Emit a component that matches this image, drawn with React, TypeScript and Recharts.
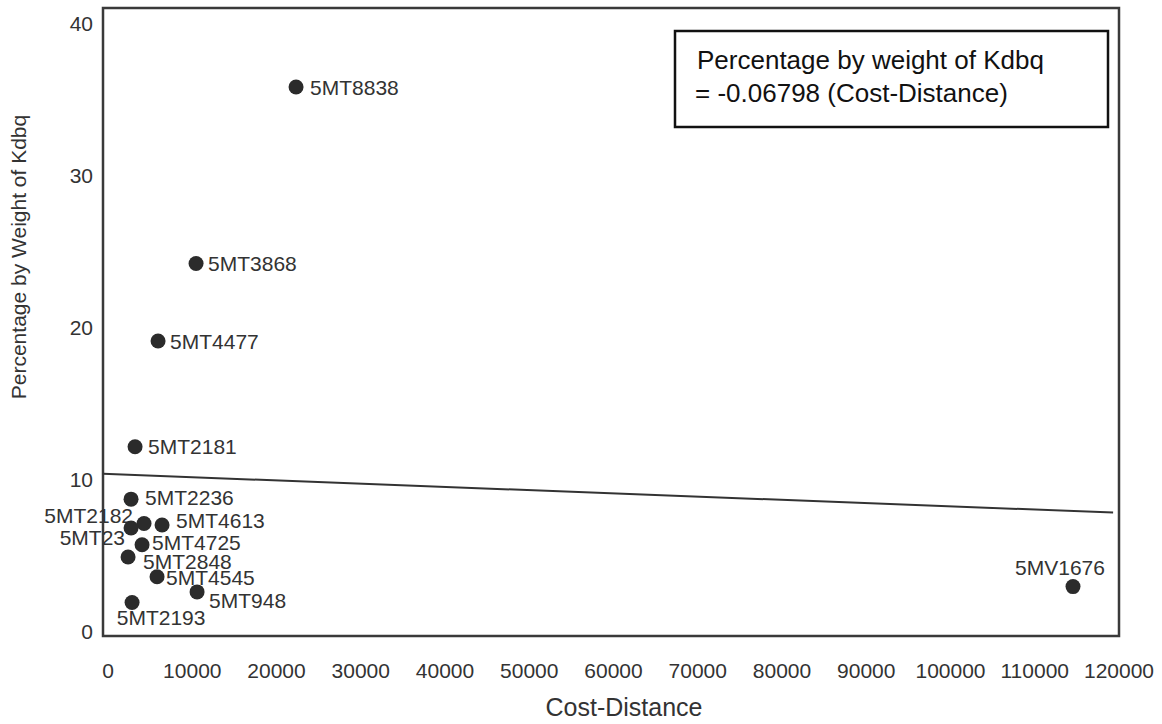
import React from "react";
import {
  ScatterChart,
  Scatter,
  XAxis,
  YAxis,
  ReferenceArea,
  ReferenceLine,
  Customized,
} from "recharts";

// Sites and their measured values
const siteNames = [
  "5MT8838",
  "5MT3868",
  "5MT4477",
  "5MT2181",
  "5MT2236",
  "5MT2182",
  "5MT4613",
  "5MT23",
  "5MT4725",
  "5MT2848",
  "5MT4545",
  "5MT948",
  "5MT2193",
  "5MV1676",
];
const costDistance = [
  22315, 10445, 5935, 3205, 2730, 4270, 6410, 2730, 4035, 2375, 5815, 10565,
  2850, 114540,
];
const kdbqPercent = [
  35.8, 24.2, 19.1, 12.15, 8.7, 7.1, 7.0, 6.8, 5.7, 4.9, 3.6, 2.6, 1.9, 2.95,
];

// Regression line end points
const trendX = [-600, 119300];
const trendY = [10.37, 7.82];

// Axis ticks and domains
const xTicks = [
  0, 10000, 20000, 30000, 40000, 50000, 60000, 70000, 80000, 90000, 100000,
  110000, 120000,
];
const yTicks = [0, 10, 20, 30, 40];
const xDomain: [number, number] = [-600, 120000];
const yDomain: [number, number] = [-0.3, 41];

const equationLines = [
  "Percentage by weight of Kdbq",
  "= -0.06798 (Cost-Distance)",
];

// Per-site label placement around the dot (anchor, offset in px)
const labelPlacement: Record<
  string,
  { anchor: "start" | "middle" | "end"; dx: number; dy: number }
> = {
  "5MT8838": { anchor: "start", dx: 14, dy: 0 },
  "5MT3868": { anchor: "start", dx: 12, dy: 0 },
  "5MT4477": { anchor: "start", dx: 12, dy: 0 },
  "5MT2181": { anchor: "start", dx: 13, dy: 0 },
  "5MT2236": { anchor: "start", dx: 14, dy: -2 },
  "5MT2182": { anchor: "end", dx: -11, dy: -8 },
  "5MT4613": { anchor: "start", dx: 14, dy: -4 },
  "5MT23": { anchor: "end", dx: -6, dy: 9 },
  "5MT4725": { anchor: "start", dx: 10, dy: -2 },
  "5MT2848": { anchor: "start", dx: 15, dy: 5 },
  "5MT4545": { anchor: "start", dx: 9, dy: 1 },
  "5MT948": { anchor: "start", dx: 12, dy: 9 },
  "5MT2193": { anchor: "middle", dx: 29, dy: 15 },
  "5MV1676": { anchor: "middle", dx: -13, dy: -19 },
};

const FONT = "'Liberation Sans', Arial, Helvetica, sans-serif";
const INK = "#333333";

const points = siteNames.map((name, i) => ({
  name,
  x: costDistance[i],
  y: kdbqPercent[i],
}));

const SiteDot = (props: any) => {
  const { cx, cy, payload } = props;
  const p = labelPlacement[payload.name] || { anchor: "start", dx: 12, dy: 0 };
  return (
    <g>
      <circle cx={cx} cy={cy} r={7.5} fill="#2b2b2b" />
      <text
        x={cx + p.dx}
        y={cy + p.dy}
        textAnchor={p.anchor}
        dominantBaseline="central"
        fontFamily={FONT}
        fontSize={21}
        fill={INK}
      >
        {payload.name}
      </text>
    </g>
  );
};

const XTick = (props: any) => {
  const { x, y, payload } = props;
  return (
    <text
      x={x}
      y={y + 34}
      textAnchor="middle"
      dominantBaseline="central"
      fontFamily={FONT}
      fontSize={21}
      fill={INK}
    >
      {payload.value}
    </text>
  );
};

const YTick = (props: any) => {
  const { x, y, payload } = props;
  return (
    <text
      x={x - 10}
      y={y}
      textAnchor="end"
      dominantBaseline="central"
      fontFamily={FONT}
      fontSize={21}
      fill={INK}
    >
      {payload.value}
    </text>
  );
};

const Decorations = () => (
  <g>
    {/* axis titles */}
    <text
      x={624}
      y={707}
      textAnchor="middle"
      dominantBaseline="central"
      fontFamily={FONT}
      fontSize={25}
      fill={INK}
    >
      Cost-Distance
    </text>
    <text
      x={18}
      y={257}
      transform="rotate(-90 18 257)"
      textAnchor="middle"
      dominantBaseline="central"
      fontFamily={FONT}
      fontSize={21}
      fill={INK}
    >
      Percentage by Weight of Kdbq
    </text>
    {/* equation box */}
    <rect
      x={675}
      y={31}
      width={433}
      height={96}
      fill="#ffffff"
      stroke="#111111"
      strokeWidth={2.5}
    />
    <text x={697} y={69} fontFamily={FONT} fontSize={26} fill="#111111">
      {equationLines[0]}
    </text>
    <text x={695} y={102} fontFamily={FONT} fontSize={26} fill="#111111">
      {equationLines[1]}
    </text>
  </g>
);

export default function App() {
  return (
    <div style={{ position: "absolute", left: 0, top: 0, background: "#fff" }}>
      <ScatterChart
        width={1162}
        height={724}
        margin={{ top: 8, right: 43, bottom: 0, left: 0 }}
      >
        <XAxis
          type="number"
          dataKey="x"
          domain={xDomain}
          ticks={xTicks}
          height={88}
          axisLine={false}
          tickLine={false}
          tickSize={0}
          tickMargin={0}
          tick={<XTick />}
          interval={0}
        />
        <YAxis
          type="number"
          dataKey="y"
          domain={yDomain}
          ticks={yTicks}
          width={103}
          axisLine={false}
          tickLine={false}
          tickSize={0}
          tickMargin={0}
          tick={<YTick />}
          interval={0}
        />
        <ReferenceArea
          x1={xDomain[0]}
          x2={xDomain[1]}
          y1={yDomain[0]}
          y2={yDomain[1]}
          fill="none"
          fillOpacity={0}
          stroke="#3a3a3a"
          strokeWidth={2.5}
        />
        <ReferenceLine
          segment={[
            { x: trendX[0], y: trendY[0] },
            { x: trendX[1], y: trendY[1] },
          ]}
          stroke="#333333"
          strokeWidth={2}
        />
        <Scatter
          data={points}
          shape={<SiteDot />}
          isAnimationActive={false}
        />
        <Customized component={Decorations} />
      </ScatterChart>
    </div>
  );
}
